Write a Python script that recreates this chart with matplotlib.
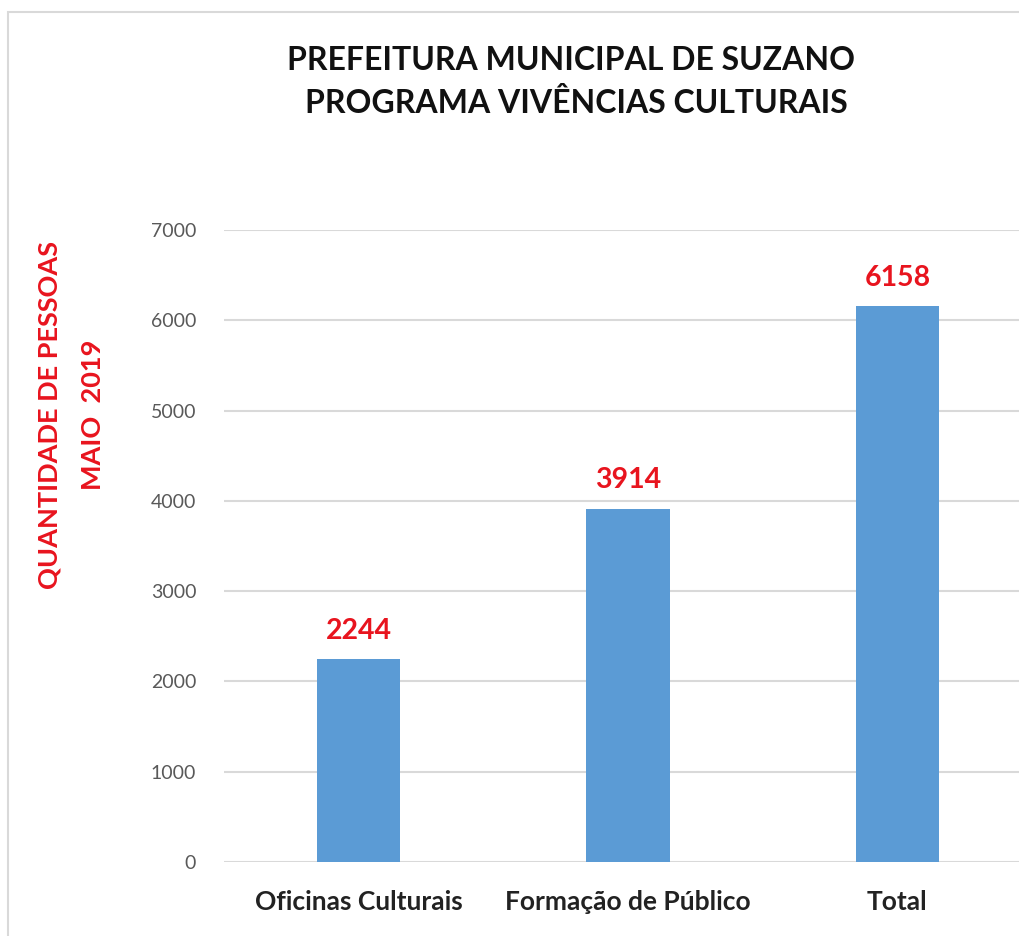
import matplotlib
matplotlib.use("Agg")
import matplotlib.pyplot as plt
from matplotlib.patches import Rectangle

categories = ["Oficinas Culturais", "Formação de Público", "Total"]
values = [2244, 3914, 6158]
yticks = [0, 1000, 2000, 3000, 4000, 5000, 6000, 7000]

plt.rcParams['font.family'] = ['Lato', 'DejaVu Sans']

W, H = 1020, 936
fig = plt.figure(figsize=(W / 100, H / 100), dpi=100)

# outer frame
fig.patches.append(Rectangle((8 / W, -0.1), 1.2, 1 - 12 / H + 0.1, transform=fig.transFigure,
                             fill=False, edgecolor="#D9D9D9", linewidth=1.5))

ax = fig.add_axes([224 / W, 1 - 862 / H, (1032 - 224) / W, (862 - 230) / H])
x = list(range(len(categories)))
ax.bar(x, values, width=0.31, color="#5B9BD5", zorder=3)
ax.set_xlim(-0.5, 2.5)
ax.set_ylim(0, 7000)
ax.set_yticks(yticks)
ax.set_yticklabels([str(v) for v in yticks], color="#595959", fontsize=14)
ax.set_xticks(x)
ax.set_xticklabels(categories, fontsize=19, fontweight="bold", color="#222222")
ax.tick_params(axis="y", length=0, pad=20)
ax.tick_params(axis="x", length=0, pad=20)
ax.grid(axis="y", color="#D9D9D9", linewidth=1.5, zorder=0)
for s in ax.spines.values():
    s.set_visible(False)

for xi, v in zip(x, values):
    ax.annotate(str(v), (xi, v), xytext=(0, 11), textcoords="offset points",
                ha="center", va="bottom", color="#E8141E", fontsize=20.5, fontweight="bold")

fig.text(571 / W, 1 - 60 / H, "PREFEITURA MUNICIPAL DE SUZANO", ha="center", va="center",
         fontsize=23, fontweight="bold", color="#111111")
fig.text(576 / W, 1 - 103 / H, "PROGRAMA VIVÊNCIAS CULTURAIS", ha="center", va="center",
         fontsize=23, fontweight="bold", color="#111111")

fig.text(50 / W, 1 - 415 / H, "QUANTIDADE DE PESSOAS", rotation=90, ha="center", va="center",
         fontsize=19.5, fontweight="bold", color="#E8141E")
fig.text(93 / W, 1 - 415 / H, "MAIO  2019", rotation=90, ha="center", va="center",
         fontsize=19.5, fontweight="bold", color="#E8141E")

fig.savefig("out.png", dpi=100)
